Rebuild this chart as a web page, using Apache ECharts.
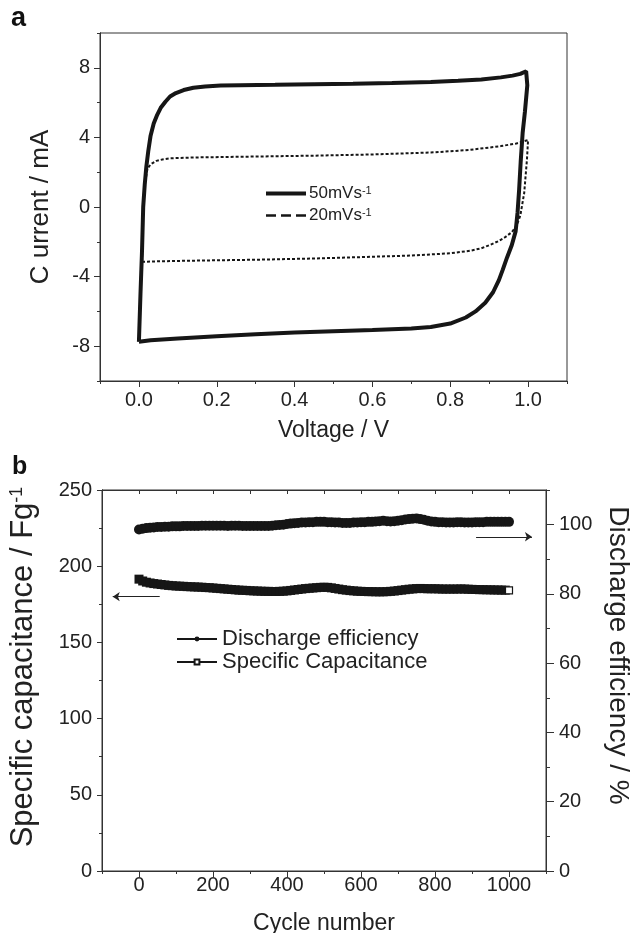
<!DOCTYPE html>
<html><head><meta charset="utf-8">
<script src="https://cdn.jsdelivr.net/npm/echarts@6/dist/echarts.min.js"></script>
<style>html,body{margin:0;padding:0;background:#fff}#c{width:633px;height:933px}</style>
</head><body><div id="c"></div>
<script>
// ---- Panel a: cyclic voltammetry ----
const cv50Voltage = [0.000,0.004,0.008,0.011,0.015,0.019,0.024,0.030,0.038,0.047,0.056,0.068,0.080,0.095,0.115,0.140,0.170,0.210,0.260,0.350,0.450,0.550,0.650,0.750,0.820,0.880,0.930,0.960,0.980,0.995,1.000,
  0.998,0.992,0.986,0.981,0.977,0.973,0.968,0.958,0.946,0.935,0.925,0.910,0.890,0.865,0.840,0.800,0.750,0.700,0.600,0.500,0.400,0.300,0.200,0.100,0.030,0.000];
const cv50Current = [-7.75,-5.0,-2.5,0.0,1.3,2.3,3.2,4.1,4.8,5.3,5.7,6.05,6.35,6.55,6.72,6.85,6.93,6.98,7.0,7.02,7.05,7.08,7.12,7.18,7.25,7.33,7.45,7.55,7.65,7.8,7.9,
  7.0,5.5,4.25,2.6,1.0,-0.3,-1.4,-2.2,-2.9,-3.6,-4.2,-4.9,-5.5,-6.0,-6.35,-6.7,-6.9,-6.98,-7.07,-7.14,-7.21,-7.32,-7.43,-7.56,-7.66,-7.75];
const cv20Voltage = [0.008,0.009,0.011,0.015,0.022,0.030,0.045,0.060,0.080,0.150,0.300,0.450,0.600,0.750,0.850,0.930,0.970,1.000,
  0.997,0.990,0.980,0.970,0.958,0.940,0.925,0.900,0.880,0.850,0.800,0.700,0.585,0.450,0.300,0.150,0.050,0.008];
const cv20Current = [-3.15,-1.5,0.0,1.3,2.2,2.45,2.65,2.73,2.8,2.85,2.9,2.95,3.02,3.13,3.28,3.5,3.65,3.85,
  2.7,0.8,-0.5,-1.1,-1.45,-1.75,-1.95,-2.2,-2.37,-2.52,-2.66,-2.79,-2.87,-2.96,-3.03,-3.08,-3.12,-3.15];
const seriesNamesA = ['50mVs-1', '20mVs-1'];
const voltageTicks = [0, 0.2, 0.4, 0.6, 0.8, 1.0];
const voltageMinorTicks = [-0.1, 0.1, 0.3, 0.5, 0.7, 0.9, 1.1];
const currentTicks = [-8, -4, 0, 4, 8];
const currentMinorTicks = [-10, -6, -2, 2, 6, 10];

// ---- Panel b: cycling ----
const cycles = [0,10,20,30,40,50,60,70,80,90,100,110,120,130,140,150,160,170,180,190,200,210,220,230,240,250,260,270,280,290,
  300,310,320,330,340,350,360,370,380,390,400,410,420,430,440,450,460,470,480,490,500,510,520,530,540,550,560,570,580,590,
  600,610,620,630,640,650,660,670,680,690,700,710,720,730,740,750,760,770,780,790,800,810,820,830,840,850,860,870,880,890,
  900,910,920,930,940,950,960,970,980,990,1000];
const efficiency = [98.6,98.8,99.0,99.1,99.2,99.3,99.3,99.4,99.4,99.5,
  99.5,99.5,99.6,99.6,99.6,99.6,99.6,99.7,99.7,99.7,
  99.7,99.7,99.7,99.7,99.6,99.7,99.7,99.7,99.6,99.6,
  99.6,99.6,99.6,99.6,99.6,99.6,99.7,99.8,99.9,100.0,
  100.2,100.3,100.4,100.5,100.6,100.6,100.7,100.7,100.8,100.8,
  100.8,100.7,100.7,100.6,100.6,100.5,100.5,100.5,100.6,100.6,
  100.7,100.7,100.8,100.8,100.9,101.0,101.1,101.0,100.9,101.0,
  101.1,101.3,101.5,101.6,101.7,101.8,101.6,101.4,101.1,100.9,
  100.8,100.7,100.7,100.6,100.6,100.6,100.7,100.7,100.6,100.6,
  100.6,100.7,100.7,100.7,100.8,100.8,100.8,100.8,100.8,100.8,100.8];
const capacitance = [191.5,190.3,189.5,189.0,188.6,188.3,188.0,187.7,187.4,187.2,
  187.0,186.9,186.8,186.6,186.5,186.4,186.3,186.2,186.0,185.9,
  185.7,185.5,185.3,185.1,184.9,184.7,184.5,184.3,184.2,184.1,
  183.9,183.8,183.7,183.6,183.5,183.5,183.4,183.4,183.5,183.6,
  183.8,184.1,184.4,184.7,185.0,185.3,185.5,185.7,185.9,186.1,
  186.2,186.1,185.8,185.4,185.0,184.6,184.3,184.0,183.8,183.6,
  183.5,183.4,183.3,183.3,183.2,183.2,183.2,183.3,183.5,183.7,
  184.0,184.3,184.6,184.9,185.1,185.3,185.4,185.3,185.2,185.2,
  185.2,185.1,185.0,185.0,185.0,185.0,185.0,185.1,185.0,184.9,
  184.8,184.7,184.6,184.6,184.5,184.5,184.4,184.4,184.3,184.3,184.2];
const seriesNamesB = ['Discharge efficiency', 'Specific Capacitance'];
const cycleTicks = [0, 200, 400, 600, 800, 1000];
const cycleMinorTicks = [-100, 100, 300, 500, 700, 900, 1100];
const cycleTopTicks = [-100,0,100,200,300,400,500,600,700,800,900,1000,1100];
const capTicks = [0, 50, 100, 150, 200, 250];
const capMinorTicks = [25, 75, 125, 175, 225];
const effTicks = [0, 20, 40, 60, 80, 100];
const effMinorTicks = [10, 30, 50, 70, 90, 110];
// arrows (data coordinates)
const capArrow = {from: [56, 180], to: [-71, 180]};
const effArrow = {from: [911, 96.5], to: [1062, 96.5]};

const INK = '#161616';
const zip = (a, b) => a.map((v, i) => [v, b[i]]);

const chart = echarts.init(document.getElementById('c'), null, {renderer: 'canvas'});

function tickAxis(base, values, len, withLabels, labelOpt) {
  return Object.assign({
    type: 'value',
    splitLine: {show: false},
    axisLine: {show: true, onZero: false, lineStyle: {color: '#333', width: 1}},
    axisTick: {show: true, inside: false, length: len, customValues: values, lineStyle: {color: '#333', width: 1}},
    axisLabel: withLabels ? Object.assign({show: true, customValues: values, color: '#222', fontSize: 20, formatter: v => String(v)}, labelOpt || {}) : {show: false}
  }, base);
}

const capData = cycles.map((c, i) => i === cycles.length - 1
  ? {value: [c, capacitance[i]], symbol: 'rect', symbolSize: 7, itemStyle: {color: '#fff', borderColor: INK, borderWidth: 1.2}}
  : {value: [c, capacitance[i]], symbol: 'rect'});

const option = {
  animation: false,
  textStyle: {fontFamily: 'Liberation Sans, Arial, sans-serif'},
  title: [
    {text: 'a', left: 11, top: 5, padding: 0, textStyle: {fontSize: 27, fontWeight: 'bold', color: '#111'}},
    {text: 'b', left: 12, top: 455, padding: 0, textStyle: {fontSize: 25, fontWeight: 'bold', color: '#111'}}
  ],
  grid: [
    {left: 100, top: 33, width: 467, height: 348, show: true, borderColor: '#333', borderWidth: 1, outerBoundsMode: 'none'},
    {left: 102, top: 490, width: 444, height: 381, show: true, borderColor: '#333', borderWidth: 1, outerBoundsMode: 'none'}
  ],
  legend: [
    {
      data: [
        {name: seriesNamesA[0], icon: 'path://M0,0h40v4h-40z'},
        {name: seriesNamesA[1], icon: 'path://M0,0h10v2.6h-10z M15,0h10v2.6h-10z M30,0h10v2.6h-10z'}
      ],
      orient: 'vertical', left: 266, top: 185, itemWidth: 40, itemHeight: 4, itemGap: 5, padding: 0,
      formatter: n => n.replace('-1', '') + '{sup|-1}',
      textStyle: {fontSize: 17, color: '#222', padding: [0, 0, 0, -2], rich: {sup: {fontSize: 11, verticalAlign: 'top', color: '#222'}}}
    },
    {
      data: seriesNamesB,
      orient: 'vertical', left: 176, top: 628, itemWidth: 40, itemHeight: 6, itemGap: 1, padding: 0,
      textStyle: {fontSize: 22, color: '#222'}
    }
  ],
  xAxis: [
    tickAxis({gridIndex: 0, min: -0.1, max: 1.1, position: 'bottom',
      name: 'Voltage / V', nameLocation: 'middle', nameGap: 38, nameTextStyle: {fontSize: 23, color: '#222'}},
      voltageTicks, 6, true, {margin: 9, formatter: v => v.toFixed(1)}),
    tickAxis({gridIndex: 0, min: -0.1, max: 1.1, position: 'bottom'}, voltageMinorTicks, 3, false),
    tickAxis({gridIndex: 1, min: -100, max: 1100, position: 'bottom',
      name: 'Cycle number', nameLocation: 'middle', nameGap: 41, nameTextStyle: {fontSize: 23, color: '#222'}},
      cycleTicks, 6, true, {margin: 4}),
    tickAxis({gridIndex: 1, min: -100, max: 1100, position: 'bottom'}, cycleMinorTicks, 3, false),
    Object.assign(tickAxis({gridIndex: 1, min: -100, max: 1100, position: 'top'}, cycleTopTicks, 4, false),
      {axisTick: {show: true, inside: true, length: 4, customValues: cycleTopTicks, lineStyle: {color: '#333'}}})
  ],
  yAxis: [
    tickAxis({gridIndex: 0, min: -10, max: 10, position: 'left',
      name: 'C urrent / mA', nameLocation: 'middle', nameGap: 46, nameTextStyle: {fontSize: 26, color: '#222'}},
      currentTicks, 6, true, {margin: 10}),
    tickAxis({gridIndex: 0, min: -10, max: 10, position: 'left'}, currentMinorTicks, 3, false),
    tickAxis({gridIndex: 1, min: 0, max: 250, position: 'left',
      name: 'Specific capacitance / Fg{sup|-1}', nameLocation: 'middle', nameGap: 63,
      nameTextStyle: {fontSize: 31, color: '#222', padding: [0, 0, 0, 27], rich: {sup: {fontSize: 18, verticalAlign: 'top', color: '#222'}}}},
      capTicks, 5, true, {margin: 10}),
    tickAxis({gridIndex: 1, min: 0, max: 250, position: 'left'}, capMinorTicks, 3, false),
    tickAxis({gridIndex: 1, min: 0, max: 110, position: 'right',
      name: 'Discharge efficiency / %', nameLocation: 'middle', nameGap: 48, nameRotate: -90,
      nameTextStyle: {fontSize: 28, color: '#222', padding: [0, 50, 0, 0]}},
      effTicks, 8, true, {margin: 13}),
    tickAxis({gridIndex: 1, min: 0, max: 110, position: 'right'}, effMinorTicks, 4, false)
  ],
  series: [
    {name: seriesNamesA[0], type: 'line', xAxisIndex: 0, yAxisIndex: 0, data: zip(cv50Voltage, cv50Current),
      showSymbol: false, symbol: 'none', color: INK, lineStyle: {color: INK, width: 4}, z: 3},
    {name: seriesNamesA[1], type: 'line', xAxisIndex: 0, yAxisIndex: 0, data: zip(cv20Voltage, cv20Current),
      showSymbol: false, symbol: 'none', color: INK, lineStyle: {color: INK, width: 2, type: [3, 2]}, z: 4},
    {name: seriesNamesB[0], type: 'line', xAxisIndex: 2, yAxisIndex: 4, data: zip(cycles, efficiency),
      symbol: 'circle', symbolSize: 10, showAllSymbol: true, color: INK, itemStyle: {color: INK},
      lineStyle: {color: INK, width: 1},
      markLine: {silent: true, symbol: ['none', 'arrow'], symbolSize: 7, label: {show: false},
        lineStyle: {color: '#222', width: 1, type: 'solid'},
        data: [[{coord: effArrow.from}, {coord: effArrow.to}]]}},
    {name: seriesNamesB[1], type: 'line', xAxisIndex: 2, yAxisIndex: 2, data: capData,
      symbol: 'emptyRect', symbolSize: 9, showAllSymbol: true, color: INK, itemStyle: {color: INK},
      lineStyle: {color: INK, width: 1},
      markLine: {silent: true, symbol: ['none', 'arrow'], symbolSize: 7, label: {show: false},
        lineStyle: {color: '#222', width: 1, type: 'solid'},
        data: [[{coord: capArrow.from}, {coord: capArrow.to}]]}}
  ]
};
chart.setOption(option);
</script>
</body></html>
